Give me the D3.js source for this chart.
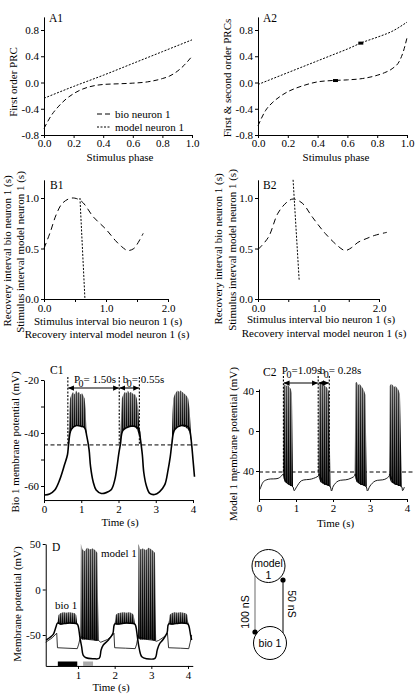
<!DOCTYPE html>
<html><head><meta charset="utf-8">
<script src="https://cdnjs.cloudflare.com/ajax/libs/d3/7.8.5/d3.min.js"></script>
<style>
html,body{margin:0;padding:0;background:#fff;}
svg{display:block;font-family:"Liberation Serif","Times New Roman",serif;}
.axis text{font-size:11px;font-family:"Liberation Serif","Times New Roman",serif;fill:#000;}
.axis path,.axis line{stroke:#000;stroke-width:1;}
</style></head><body>
<svg id="fig" width="415" height="694"></svg>
<script>
// ================= DATA =================
// A1: first order PRC
const a1Phase = [0,0.05,0.1,0.15,0.2,0.25,0.3,0.4,0.5,0.6,0.7,0.8,0.85,0.9,0.95,1.0];
const a1Bio   = [-0.70,-0.50,-0.36,-0.25,-0.17,-0.11,-0.07,-0.03,-0.02,-0.01,0.01,0.06,0.10,0.17,0.27,0.40];
const a1ModelPhase = [0,0.2,0.4,0.6,0.8,1.0];
const a1Model = [-0.24,-0.06,0.11,0.29,0.47,0.65];
// A2: first & second order PRCs
const a2Phase = [0,0.05,0.1,0.15,0.2,0.25,0.3,0.4,0.5,0.6,0.7,0.8,0.85,0.9,0.95,0.975,1.0];
const a2Lower = [-0.66,-0.43,-0.30,-0.21,-0.14,-0.09,-0.05,0.01,0.03,0.04,0.06,0.11,0.15,0.21,0.33,0.47,0.68];
const a2UpperPhase = [0,0.1,0.2,0.3,0.4,0.5,0.6,0.7,0.8,0.9,1.0];
const a2Upper = [-0.03,0.06,0.15,0.24,0.33,0.42,0.51,0.61,0.69,0.78,0.92];
const a2MarkPhase = [0.52,0.69];
const a2MarkValue = [0.03,0.60];
// B1 / B2: recovery vs stimulus intervals
const b1Stim = [0,0.1,0.2,0.3,0.45,0.6,0.8,1.0,1.15,1.25,1.35,1.45,1.52,1.6];
const b1Rec  = [0.50,0.66,0.84,0.95,1.00,0.97,0.81,0.69,0.58,0.52,0.48,0.50,0.56,0.65];
const b1ModelX = [0.58,0.66];
const b1ModelY = [1.0,0.0];
const b2Stim = [0,0.17,0.33,0.48,0.58,0.73,0.9,1.11,1.33,1.44,1.55,1.65,1.8,1.93,2.13];
const b2Rec  = [0.49,0.61,0.85,0.96,0.99,0.95,0.81,0.65,0.52,0.48,0.51,0.56,0.60,0.63,0.66];
const b2ModelX = [0.58,0.68];
const b2ModelY = [1.18,0.19];
// C1: bio neuron membrane potential
const c1Time = [0.02,0.15,0.29,0.42,0.55,0.63,0.66,0.73,0.87,1.0,1.09,1.15,1.21,1.25,1.32,1.40,1.54,1.67,1.81,1.90,1.96,2.01,2.05,2.12,2.30,2.48,2.55,2.59,2.64,2.68,2.75,2.84,2.97,3.10,3.24,3.33,3.39,3.43,3.51,3.69,3.87,3.91,3.96,4.00,4.04];
const c1Volt = [-63.4,-63,-61.5,-57.7,-52,-48.2,-44.4,-38.7,-37.2,-37.5,-38,-41.3,-46.3,-52.7,-58.4,-61.5,-62.8,-62.5,-61.3,-57.7,-52.7,-47.6,-44.4,-39,-37.5,-37.7,-38.7,-42.5,-48.2,-55,-60,-62.8,-63.2,-62.2,-59.6,-54,-48.9,-44.4,-38.7,-37.2,-37.7,-38.7,-43.8,-50.1,-56.5];
const c1BurstTimes = [
  [0.66,0.68,0.70,0.74,0.78,0.82,0.86,0.90,0.94,0.98,1.02,1.06,1.09,1.12,1.14],
  [2.05,2.07,2.09,2.13,2.17,2.21,2.25,2.29,2.33,2.37,2.41,2.45,2.49,2.53,2.57],
  [3.43,3.45,3.47,3.51,3.55,3.59,3.63,3.67,3.71,3.75,3.79,3.83,3.87,3.91,3.95]];
const c1BurstTops = [
  [-44,-32,-27,-25.5,-24.5,-25.5,-24,-25,-24.5,-25.5,-25,-26,-27,-31,-41],
  [-44,-33,-27,-25.5,-24.5,-25,-24,-25,-24.5,-25,-25.5,-25.5,-27,-31,-41],
  [-44,-33,-27,-25.5,-24.5,-24,-24.5,-24,-24.5,-25,-25.5,-26,-27,-31,-42]];
const c1BurstBottoms = [
  [-44.4,-41.5,-40,-38.8,-38,-37.5,-37.2,-37,-37.2,-37.4,-37.6,-37.8,-38,-39.5,-41],
  [-44.4,-42,-40,-39,-38,-37.6,-37.5,-37.5,-37.5,-37.6,-37.7,-37.8,-38.5,-40,-42],
  [-44.4,-42,-40,-38.7,-37.8,-37.4,-37.2,-37.3,-37.4,-37.6,-37.7,-38.2,-38.7,-40,-43]];
const c1Marks = [0.64,2.02,2.56];
const c1Threshold = -44.5;
// C2: model neuron membrane potential
const c2Time = [0.03,0.12,0.25,0.52,0.63,0.65,0.75,0.85,0.92,0.95,1.02,1.15,1.42,1.60,1.62,1.75,1.88,1.93,1.96,2.01,2.14,2.41,2.58,2.60,2.70,2.82,2.90,2.93,3.0,3.14,3.40,3.52,3.53,3.65,3.78,3.86,3.88,3.93];
const c2Volt = [-58.3,-50.7,-48.3,-47.3,-44,-43,-52,-54,-56,-59.7,-55.7,-49.7,-48,-45,-43,-52,-54,-56,-60,-55,-50,-48.3,-45,-43,-52,-54,-56,-60,-55,-50,-48.3,-45,-43,-52,-54,-56,-59.7,-56];
const c2BurstTimes = [
  [0.65,0.66,0.70,0.74,0.78,0.82,0.86,0.89,0.92],
  [1.61,1.62,1.66,1.70,1.74,1.78,1.82,1.86,1.90,1.93],
  [2.59,2.60,2.64,2.68,2.72,2.76,2.80,2.84,2.88,2.91],
  [3.52,3.53,3.57,3.61,3.65,3.69,3.73,3.77,3.81,3.86]];
const c2BurstTops = [
  [-43,44,47,45,46,44,42,38,-56],
  [-43,47,48,46,47,45,44,42,38,-56],
  [-43,48,49,46,47,45,43,40,36,-56],
  [-43,45,47,46,44,45,43,41,37,-56]];
const c2BurstBottoms = [
  [-43,-47,-51,-52,-53,-54,-55,-55,-56],
  [-43,-47,-51,-52,-53,-54,-54,-55,-55,-56],
  [-43,-47,-51,-52,-53,-54,-54,-55,-55,-56],
  [-43,-47,-51,-52,-53,-54,-54,-55,-55,-56]];
const c2Marks = [0.66,1.60,1.90];
const c2Threshold = -41;
// D: coupled bio 1 and model 1
const dBioTime = [0.13,0.24,0.33,0.40,0.44,0.55,0.7,0.85,0.98,1.01,1.05,1.10,1.14,1.22,1.42,1.58,1.63,1.69,1.83,1.95,2.00,2.1,2.25,2.4,2.55,2.58,2.62,2.67,2.74,2.87,3.10,3.16,3.22,3.32,3.43,3.47,3.6,3.75,3.9,4.0,4.03,4.07,4.10];
const dBioVolt = [-55.5,-52.5,-49,-41,-37,-38,-37,-37,-38,-41,-52,-63,-72,-75,-76,-75.6,-66.6,-61,-55.5,-48.4,-38,-38,-37,-37,-38,-41,-52,-65,-74,-76,-75.6,-66.6,-60,-55,-47.6,-38,-38,-37,-37,-38,-41,-50,-55.5];
const dBioBurstTimes = [
  [0.44,0.47,0.52,0.60,0.68,0.76,0.84,0.91,0.95,0.98],
  [2.00,2.03,2.08,2.16,2.24,2.32,2.40,2.47,2.52,2.55],
  [3.47,3.50,3.55,3.63,3.71,3.79,3.87,3.94,3.98,4.01]];
const dBioBurstTops = [
  [-37,-28,-26,-25,-25.5,-25,-25.5,-26,-28,-38],
  [-38,-28,-26,-25.5,-25,-25.5,-25,-26,-28,-38],
  [-38,-28,-26,-25,-25.5,-25,-25.5,-26,-28,-38]];
const dBioBurstBottoms = [
  [-37,-38,-38.5,-38,-37.5,-37,-37,-37.5,-38,-38],
  [-38,-38,-38.5,-38,-37.5,-37,-37,-37.5,-38,-38],
  [-38,-38,-38.5,-38,-37.5,-37,-37,-37.5,-38,-38]];
const dModelTime = [0.12,0.30,0.42,0.44,0.70,0.98,1.02,1.06,1.08,1.30,1.53,1.56,1.62,1.80,1.95,1.98,2.00,2.30,2.56,2.60,2.63,2.64,2.90,3.10,3.13,3.20,3.35,3.44,3.47,3.80,4.02,4.06,4.10];
const dModelVolt = [-58,-53,-48,-64,-64.5,-65,-60,-53,-52,-55,-56,-56,-58,-55,-50,-48,-64,-64.5,-65,-60,-53,-52,-55,-56,-57,-56,-52,-48,-64,-64.5,-65,-58,-50];
const dModelBurstTimes = [
  [1.07,1.08,1.12,1.18,1.25,1.32,1.40,1.47,1.53,1.56],
  [2.64,2.65,2.70,2.77,2.85,2.93,3.00,3.06,3.10,3.13]];
const dModelBurstTops = [
  [-52,50,44,42,46,44,45,43,40,-56],
  [-52,50,44,45,43,46,44,42,40,-56]];
const dModelBurstBottoms = [
  [-52,-54,-55,-55,-55,-55,-55,-56,-56,-56],
  [-52,-54,-55,-55,-55,-55,-55,-56,-56,-56]];
const dBarStart = [0.45,1.14];
const dBarEnd = [0.98,1.41];

// ================= DRAWING =================
const SERIF = '"Liberation Serif","Times New Roman",serif';
const svg = d3.select("#fig");
const defs = svg.append("defs");
const pat = defs.append("pattern").attr("id","spk").attr("patternUnits","userSpaceOnUse")
  .attr("width",2).attr("height",4);
pat.append("rect").attr("width",2).attr("height",4).attr("fill","#8a8a8a");
pat.append("rect").attr("width",1).attr("height",4).attr("fill","#111");
const shade = defs.append("linearGradient").attr("id","shade").attr("x1",0).attr("y1",0).attr("x2",0).attr("y2",1);
shade.append("stop").attr("offset","0%").attr("stop-color","#fff").attr("stop-opacity",0.25);
shade.append("stop").attr("offset","55%").attr("stop-color","#000").attr("stop-opacity",0.2);
shade.append("stop").attr("offset","100%").attr("stop-color","#000").attr("stop-opacity",0.75);
const mk = defs.append("marker").attr("id","arr").attr("viewBox","0 0 8 8").attr("refX",7.5).attr("refY",4)
  .attr("markerWidth",6).attr("markerHeight",6).attr("markerUnits","userSpaceOnUse")
  .attr("orient","auto-start-reverse");
mk.append("path").attr("d","M0,0.5 L8,4 L0,7.5 Z").attr("fill","#000");

const FS = 11;
function txt(x,y,s,opt={}) {
  const t = svg.append("text").attr("x",x).attr("y",y).text(s)
    .attr("font-family",SERIF)
    .attr("font-size",opt.size||FS).attr("fill","#000")
    .attr("text-anchor",opt.anchor||"start");
  if (opt.rot) t.attr("transform",`rotate(${opt.rot},${x},${y})`);
  if (opt.dy) t.attr("dy",opt.dy);
  return t;
}

function panel(c) {
  const x = d3.scaleLinear().domain(c.xd).range(c.xr);
  const y = d3.scaleLinear().domain(c.yd).range(c.yr);
  const xa = x.copy().domain(c.xAxis).range(c.xAxis.map(x));
  const ya = y.copy().domain(c.yAxis).range(c.yAxis.map(y));
  const g = svg.append("g");
  const x0 = x(c.xAxis[0]), y0 = y(c.yAxis[0]);
  g.append("g").attr("class","axis").attr("transform",`translate(0,${y0})`)
    .call(d3.axisBottom(xa).tickValues(c.xTicks).tickFormat(c.xFmt).tickSize(3).tickSizeOuter(0).tickPadding(c.xPad||2))
    .attr("font-family",SERIF).attr("font-size",FS);
  const yg = g.append("g").attr("class","axis").attr("transform",`translate(${x0},0)`)
    .call(d3.axisLeft(ya).tickValues(c.yTicks).tickFormat(c.yFmt).tickSize(3).tickSizeOuter(0).tickPadding(2))
    .attr("font-family",SERIF).attr("font-size",FS);
  if (c.yAxisStyle) yg.select(".domain").attr("stroke",c.yAxisStyle.color).attr("stroke-width",c.yAxisStyle.w);
  return {x,y,g};
}
const f1 = d => d.toFixed(1);
const lbl = (vals,labs) => (d => { const i = vals.indexOf(d); return i<0?"":labs[i]; });

function curve(p, xs, ys, dash, w, cur) {
  const pts = xs.map((v,i)=>[v,ys[i]]);
  p.g.append("path").datum(pts)
    .attr("d", d3.line().x(d=>p.x(d[0])).y(d=>p.y(d[1])).curve(cur||d3.curveMonotoneX))
    .attr("fill","none").attr("stroke","#000").attr("stroke-width",w||1)
    .attr("stroke-dasharray",dash||null);
}
function bursts(p, times, tops, bottoms) {
  times.forEach((ts,k)=>{
    const pts = ts.map((t,i)=>({t, top:tops[k][i], b:bottoms[k][i]}));
    const ar = d3.area().x(d=>p.x(d.t)).y0(d=>p.y(d.b)).y1(d=>p.y(d.top));
    p.g.append("path").datum(pts).attr("d",ar).attr("fill","url(#spk)");
    p.g.append("path").datum(pts).attr("d",ar).attr("fill","url(#shade)");
  });
}

// ---------- A1 ----------
const pA1 = panel({xd:[0,1], xr:[44,192], yd:[-0.8,0.8], yr:[135,30],
  xAxis:[0,1], yAxis:[-0.8,1.0], xTicks:[0,0.2,0.4,0.6,0.8,1.0], xFmt:f1, xPad:1.5,
  yTicks:[-0.8,-0.4,0,0.4,0.8], yFmt:f1});
curve(pA1, a1Phase, a1Bio, "5,3", 1);
curve(pA1, a1ModelPhase, a1Model, "2,1.5", 1);
// legend
pA1.g.append("line").attr("x1",97).attr("x2",110).attr("y1",114).attr("y2",114)
  .attr("stroke","#000").attr("stroke-dasharray","5,3");
pA1.g.append("line").attr("x1",97).attr("x2",110).attr("y1",127).attr("y2",127)
  .attr("stroke","#000").attr("stroke-dasharray","2,1.5");
txt(115,117.5,"bio neuron 1");
txt(115,130.5,"model neuron 1");
txt(49,22,"A1",{size:11.5});
txt(120,160.5,"Stimulus phase",{anchor:"middle"});
txt(13,82,"First order PRC",{anchor:"middle",rot:-90,dy:"0.35em"});

// ---------- A2 ----------
const pA2 = panel({xd:[0,1], xr:[258,407], yd:[-0.8,0.8], yr:[135,30],
  xAxis:[0,1], yAxis:[-0.8,1.0], xTicks:[0,0.2,0.4,0.6,0.8,1.0], xFmt:f1, xPad:1.5,
  yTicks:[-0.8,-0.4,0,0.4,0.8], yFmt:f1, yAxisStyle:{color:"#888",w:2}});
curve(pA2, a2Phase, a2Lower, "5,3", 1);
curve(pA2, a2UpperPhase, a2Upper, "2,1.5", 1);
pA2.g.selectAll("rect.mk").data(a2MarkPhase).enter().append("rect")
  .attr("x",(d)=>pA2.x(d)-2.5).attr("y",(d,i)=>pA2.y(a2MarkValue[i])-1.5)
  .attr("width",5).attr("height",3).attr("fill","#000");
txt(263,22,"A2",{size:11.5});
txt(336,160.5,"Stimulus phase",{anchor:"middle"});
txt(227,78,"First & second order PRCs",{anchor:"middle",rot:-90,dy:"0.35em"});

// ---------- B1 ----------
const bxT = [0,0.5,1,1.5,2];
const pB1 = panel({xd:[0,2], xr:[44,168], yd:[0,1], yr:[299,198],
  xAxis:[0,2], yAxis:[0,1.18], xTicks:bxT, xFmt:lbl([0,1,2],["0.0","1.0","2.0"]),
  yTicks:[0,0.5,1], yFmt:f1});
curve(pB1, b1Stim, b1Rec, "6,4", 1, d3.curveCatmullRom);
curve(pB1, b1ModelX, b1ModelY, "2,1.5", 1, d3.curveLinear);
txt(50,189,"B1",{size:11.5});
txt(108,325,"Stimulus interval bio neuron 1 (s)",{anchor:"middle"});
txt(107,338,"Recovery interval model neuron 1 (s)",{anchor:"middle"});
txt(7,251,"Recovery interval bio neuron 1 (s)",{anchor:"middle",rot:-90,dy:"0.35em"});
txt(20,252,"Stimulus interval model neuron 1 (s)",{anchor:"middle",rot:-90,dy:"0.35em"});

// ---------- B2 ----------
const pB2 = panel({xd:[0,2], xr:[258,379], yd:[0,1], yr:[299,198],
  xAxis:[0,2], yAxis:[0,1.18], xTicks:bxT, xFmt:lbl([0,1,2],["0.0","1.0","2.0"]),
  yTicks:[0,0.5,1], yFmt:f1});
curve(pB2, b2Stim, b2Rec, "6,4", 1, d3.curveCatmullRom);
curve(pB2, b2ModelX, b2ModelY, "2,1.5", 1, d3.curveLinear);
txt(263,189,"B2",{size:11.5});
txt(321,323,"Stimulus interval bio neuron 1 (s)",{anchor:"middle"});
txt(324,337,"Recovery interval model neuron 1 (s)",{anchor:"middle"});
txt(218,249,"Recovery interval bio neuron 1 (s)",{anchor:"middle",rot:-90,dy:"0.35em"});
txt(232,250,"Stimulus interval model neuron 1 (s)",{anchor:"middle",rot:-90,dy:"0.35em"});

// ---------- C helpers ----------
function periodMarks(p, marks, thr, yTop, yArrow, labP, labB, pPos, bPos) {
  marks.forEach(m=>{
    p.g.append("line").attr("x1",p.x(m)).attr("x2",p.x(m)).attr("y1",yTop).attr("y2",p.y(thr))
      .attr("stroke","#000").attr("stroke-width",1.1).attr("stroke-dasharray","2,1.6");
  });
  [[0,1],[1,2]].forEach(([a,b])=>{
    p.g.append("line").attr("x1",p.x(marks[a])+0.5).attr("x2",p.x(marks[b])-0.5)
      .attr("y1",yArrow).attr("y2",yArrow).attr("stroke","#000").attr("stroke-width",1.1)
      .attr("marker-start","url(#arr)").attr("marker-end","url(#arr)");
  });
  const sub = (x,y,main,rest,anchor)=>{
    const t = svg.append("text").attr("x",x).attr("y",y).attr("font-size",FS)
      .attr("font-family",SERIF).attr("text-anchor",anchor);
    t.append("tspan").text(main);
    t.append("tspan").text("0").attr("dy",4).attr("dx",-1.5).attr("font-size",10);
    t.append("tspan").text(rest).attr("dy",-4);
  };
  sub(pPos[0],pPos[1],"P",labP,"middle");
  sub(bPos[0],bPos[1],"b",labB,"start");
}

// ---------- C1 ----------
const pC1 = panel({xd:[0,4], xr:[44,193], yd:[-60,-20], yr:[486,380],
  xAxis:[0,4], yAxis:[-65.3,-20], xTicks:[0,1,2,3,4], xFmt:d=>d,
  yTicks:[-60,-50,-40,-30,-20], yFmt:lbl([-60,-40,-20],["-60","-40","-20"])});
pC1.g.append("line").attr("x1",44).attr("x2",200).attr("y1",pC1.y(c1Threshold)).attr("y2",pC1.y(c1Threshold))
  .attr("stroke","#000").attr("stroke-dasharray","4,2.5");
bursts(pC1, c1BurstTimes, c1BurstTops, c1BurstBottoms);
curve(pC1, c1Time, c1Volt, null, 1.6, d3.curveCatmullRom);
periodMarks(pC1, c1Marks, c1Threshold, 377, 388, "= 1.50s", "= 0.55s",
  [95,383], [pC1.x(c1Marks[1])+3.5,383]);
txt(50,374,"C1",{size:11.5});
txt(120,526,"Time (s)",{anchor:"middle"});
txt(15,442,"Bio 1 membrane potential (mV)",{anchor:"middle",rot:-90,dy:"0.35em"});

// ---------- C2 ----------
const pC2 = panel({xd:[0,4], xr:[259,407], yd:[-40,40], yr:[471,391],
  xAxis:[0,4], yAxis:[-68,42], xTicks:[0,1,2,3,4], xFmt:d=>d,
  yTicks:[-40,0,40], yFmt:lbl([-40,0,40],["- 40","0","40"])});
pC2.g.append("line").attr("x1",259).attr("x2",415).attr("y1",pC2.y(c2Threshold)).attr("y2",pC2.y(c2Threshold))
  .attr("stroke","#000").attr("stroke-dasharray","4,2.5");
bursts(pC2, c2BurstTimes, c2BurstTops, c2BurstBottoms);
curve(pC2, c2Time, c2Volt, null, 0.9, d3.curveCatmullRom);
periodMarks(pC2, c2Marks, c2Threshold, 376, 383, "=1.09s", "= 0.28s",
  [301.5,374], [pC2.x(c2Marks[1])+1.5,374]);
txt(263,376,"C2",{size:11.5});
txt(335.5,527,"Time (s)",{anchor:"middle"});
txt(233,444,"Model 1 membrane potential (mV)",{anchor:"middle",rot:-90,dy:"0.35em"});

// ---------- D ----------
const pD = panel({xd:[1,4], xr:[78,188], yd:[-50,50], yr:[635,544],
  xAxis:[0.12,4.13], yAxis:[-84,50], xTicks:[1,2,3,4], xFmt:d=>d,
  yTicks:[-50,0,50], yFmt:d=>d});
bursts(pD, dModelBurstTimes, dModelBurstTops, dModelBurstBottoms);
curve(pD, dModelTime, dModelVolt, null, 0.8, d3.curveLinear);
bursts(pD, dBioBurstTimes, dBioBurstTops, dBioBurstBottoms);
curve(pD, dBioTime, dBioVolt, null, 1.5, d3.curveCatmullRom);
pD.g.selectAll("rect.bar").data(dBarStart).enter().append("rect")
  .attr("x",d=>pD.x(d)).attr("width",(d,i)=>pD.x(dBarEnd[i])-pD.x(d))
  .attr("y",661.5).attr("height",4.5).attr("fill",(d,i)=>i===0?"#000":"#aaa");
txt(52,551,"D",{size:11.5});
txt(101,557,"model 1");
txt(55,609,"bio 1");
txt(111,691,"Time (s)",{anchor:"middle"});
txt(17,604,"Membrane potential (mV)",{anchor:"middle",rot:-90,dy:"0.35em"});

// ---------- network diagram ----------
const netNodes = [{cx:268.5, cy:566, r:16.5}, {cx:270, cy:643, r:16.5}];
const net = svg.append("g").attr("font-family",'"Liberation Sans",Arial,sans-serif').attr("font-size",10.5);
net.append("line").attr("x1",255).attr("x2",255).attr("y1",575.5).attr("y2",633).attr("stroke","#777").attr("stroke-width",1.1);
net.append("line").attr("x1",283).attr("x2",283).attr("y1",580).attr("y2",633).attr("stroke","#000").attr("stroke-width",1);
netNodes.forEach(n=>{
  net.append("circle").attr("cx",n.cx).attr("cy",n.cy).attr("r",n.r).attr("fill","#fff").attr("stroke","#000").attr("stroke-width",1);
});
net.append("text").attr("x",268.5).attr("y",566.5).attr("text-anchor","middle").text("model");
net.append("text").attr("x",268.5).attr("y",578.5).attr("text-anchor","middle").text("1");
net.append("text").attr("x",270).attr("y",647).attr("text-anchor","middle").text("bio 1");
net.append("circle").attr("cx",255).attr("cy",632).attr("r",2.6).attr("fill","#000");
net.append("circle").attr("cx",283).attr("cy",580).attr("r",2.6).attr("fill","#000");
net.append("text").attr("x",245).attr("y",612).attr("text-anchor","middle").attr("dy","0.35em")
  .attr("transform","rotate(-90,245,612)").text("100 nS");
net.append("text").attr("x",292).attr("y",604).attr("text-anchor","middle").attr("dy","0.35em")
  .attr("transform","rotate(90,292,604)").text("50 nS");
</script>
</body></html>
